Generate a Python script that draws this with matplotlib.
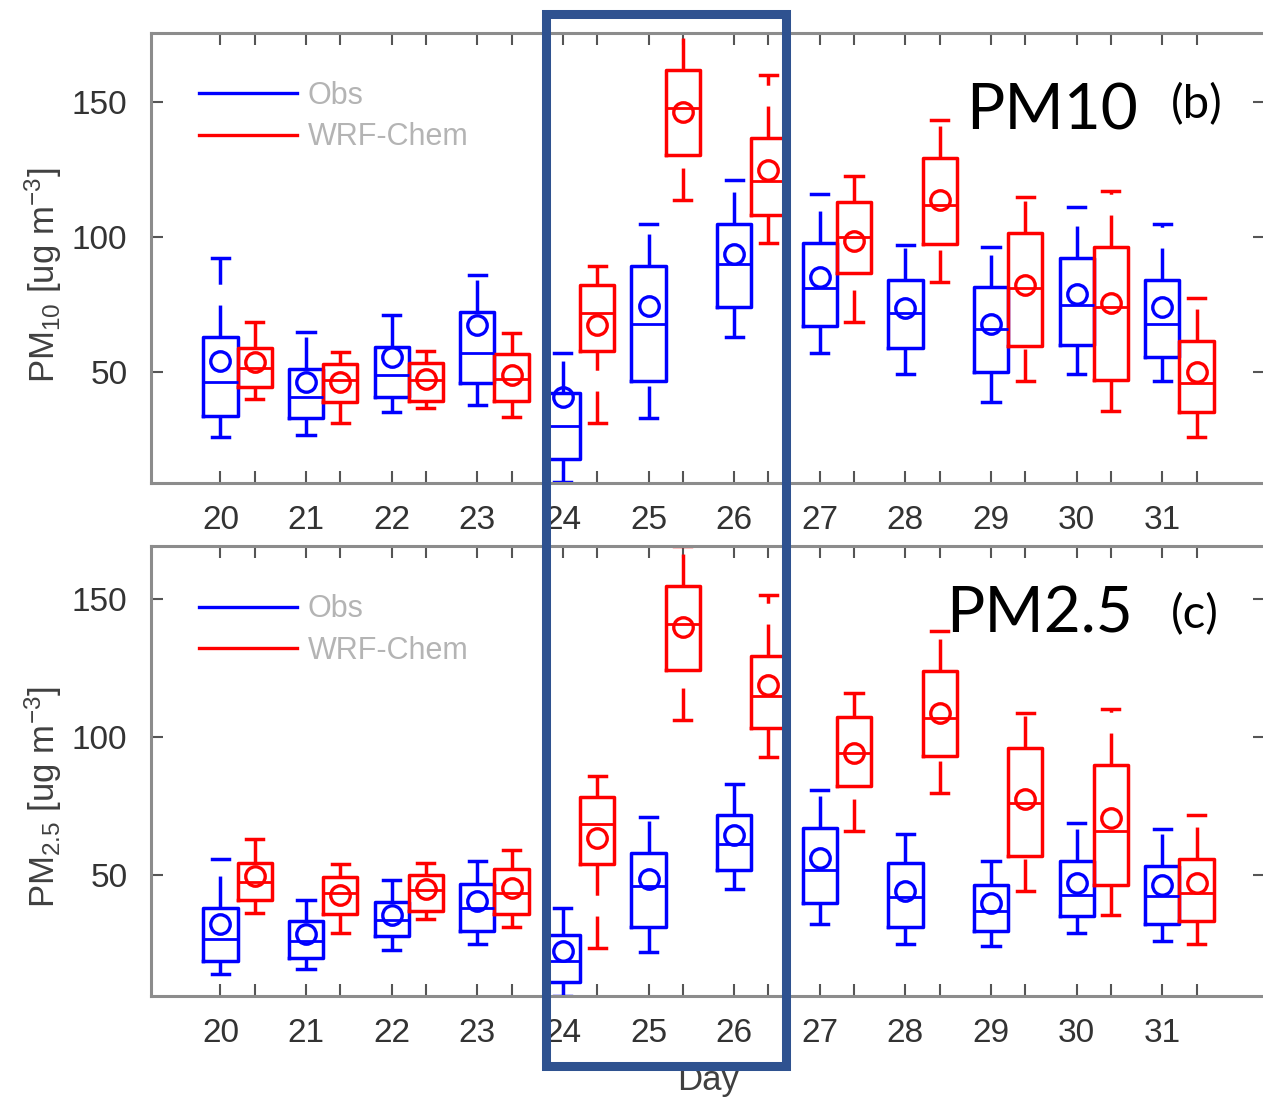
import matplotlib
matplotlib.use('Agg')
import matplotlib.pyplot as plt
from matplotlib.lines import Line2D
from matplotlib.patches import Rectangle
from matplotlib.transforms import blended_transform_factory

plt.rcParams['font.family'] = ['Liberation Sans', 'DejaVu Sans']
plt.rcParams['mathtext.default'] = 'regular'
plt.rcParams['lines.scale_dashes'] = False

days = list(range(20, 32))
highlight = (23.8, 26.6)   # days 24-26 boxed

# PM10 (b)
pm10_obs_lo = [26.0, 26.8, 35.0, 37.9, 9.2, 32.8, 62.8, 57.0, 49.1, 38.9, 49.1, 46.8]
pm10_obs_q1 = [33.7, 32.8, 40.7, 45.9, 17.9, 46.8, 73.9, 67.0, 58.9, 50.0, 59.9, 55.7]
pm10_obs_med = [46.2, 40.8, 49.0, 57.0, 30.0, 67.9, 89.9, 80.9, 71.9, 65.9, 74.9, 67.9]
pm10_obs_q3 = [63.1, 51.0, 59.2, 72.1, 42.3, 89.2, 104.8, 97.8, 84.2, 81.3, 92.3, 84.2]
pm10_obs_hi = [92.1, 64.7, 71.0, 86.0, 57.0, 104.8, 121.2, 115.9, 96.9, 96.2, 111.0, 104.8]
pm10_obs_mean = [54.1, 46.2, 55.7, 67.5, 40.7, 74.5, 93.8, 85.3, 73.6, 67.9, 78.7, 73.9]

pm10_wrf_lo = [40.1, 31.1, 36.6, 33.2, 31.1, 113.8, 97.8, 68.5, 83.4, 46.6, 35.7, 26.0]
pm10_wrf_q1 = [44.6, 38.8, 39.4, 39.2, 57.7, 130.1, 108.0, 86.6, 97.4, 59.6, 47.1, 35.1]
pm10_wrf_med = [51.3, 47.1, 47.1, 47.4, 71.9, 147.8, 120.5, 100.0, 111.9, 80.9, 73.9, 45.9]
pm10_wrf_q3 = [58.9, 52.9, 53.2, 56.8, 82.1, 161.6, 136.7, 112.9, 129.1, 101.3, 96.2, 61.5]
pm10_wrf_hi = [68.5, 57.4, 57.7, 64.3, 89.2, 175.6, 160.0, 122.4, 143.1, 114.7, 116.8, 77.4]
pm10_wrf_mean = [53.8, 46.2, 47.4, 49.0, 67.5, 146.3, 124.9, 98.5, 113.8, 82.1, 75.5, 50.0]

# PM2.5 (c)
pm25_obs_lo = [14.0, 16.0, 22.9, 25.0, 6.2, 22.0, 44.8, 32.1, 25.0, 24.2, 29.1, 26.2]
pm25_obs_q1 = [18.8, 19.8, 27.8, 29.8, 11.1, 31.1, 51.9, 39.8, 31.1, 29.8, 35.2, 32.3]
pm25_obs_med = [26.9, 26.2, 33.6, 38.1, 18.8, 45.9, 61.1, 51.9, 42.0, 36.9, 42.9, 42.4]
pm25_obs_q3 = [38.1, 33.2, 40.1, 46.9, 28.2, 57.9, 71.9, 66.9, 54.3, 46.3, 55.2, 53.2]
pm25_obs_hi = [55.9, 41.0, 48.2, 54.9, 37.9, 71.0, 82.9, 80.9, 64.9, 55.2, 68.8, 66.8]
pm25_obs_mean = [32.3, 28.7, 35.6, 40.5, 22.3, 48.5, 64.6, 56.2, 44.2, 39.8, 47.2, 46.5]

pm25_wrf_lo = [36.2, 29.1, 33.9, 31.1, 23.6, 106.2, 92.9, 65.9, 79.8, 44.3, 35.6, 25.0]
pm25_wrf_q1 = [41.1, 36.0, 36.9, 36.0, 53.9, 124.5, 103.2, 82.2, 93.3, 56.8, 46.5, 33.4]
pm25_wrf_med = [47.6, 43.3, 44.6, 43.3, 68.4, 141.0, 114.8, 94.2, 107.1, 76.2, 66.1, 43.3]
pm25_wrf_q3 = [54.3, 49.1, 50.1, 52.1, 78.4, 154.8, 129.4, 107.3, 124.1, 95.9, 89.9, 55.9]
pm25_wrf_hi = [62.9, 54.0, 54.5, 59.0, 85.8, 169.2, 151.5, 115.9, 138.4, 108.6, 110.3, 71.9]
pm25_wrf_mean = [49.5, 42.9, 44.8, 45.2, 63.5, 140.0, 118.9, 94.2, 108.8, 77.4, 70.7, 47.2]


def make_stats(lo, q1, med, q3, hi, mean):
    return [dict(whislo=a, q1=b, med=c, q3=d, whishi=e, mean=f)
            for a, b, c, d, e, f in zip(lo, q1, med, q3, hi, mean)]


def draw_boxes(ax, stats, pos, color):
    art = ax.bxp(stats, positions=pos, widths=0.4, showmeans=True, showfliers=False,
                 manage_ticks=False,
                 boxprops=dict(color=color, lw=2.5),
                 whiskerprops=dict(color=color, lw=2.5, linestyle=(0, (23, 15))),
                 capprops=dict(color=color, lw=2.5),
                 medianprops=dict(color=color, lw=2.0),
                 meanprops=dict(marker='o', markerfacecolor='none', markeredgecolor=color,
                                markersize=14, markeredgewidth=2.4))
    # dashes start from the low end on the lower whisker
    for w in art['whiskers'][0::2]:
        w.set_ydata(w.get_ydata()[::-1])


def style_axes(ax, ylim):
    ax.set_xlim(19.19, 32.2)
    ax.set_ylim(*ylim)
    ax.set_xticks(days)
    ax.set_xticklabels([str(d) for d in days])
    ax.set_xticks([d + 0.4 for d in days], minor=True)
    ax.set_yticks([50, 100, 150])
    ax.tick_params(which='both', direction='in', top=True, right=True, length=8.6,
                   width=1.5, color='#555555', labelsize=24, labelcolor='#333333')
    ax.tick_params(axis='x', pad=16)
    ax.tick_params(axis='y', pad=17)
    for s in ax.spines.values():
        s.set_color('#8c8c8c')
        s.set_linewidth(2.2)
    handles = [Line2D([], [], color='#0000ff', lw=2.4), Line2D([], [], color='#ff0000', lw=2.4)]
    ax.legend(handles, ['Obs', 'WRF-Chem'], loc='upper left', bbox_to_anchor=(0.043, 0.893),
              frameon=False, fontsize=22, labelcolor='#b4b4b4', handlelength=3.2,
              handletextpad=0.35, labelspacing=0.37, borderpad=0, borderaxespad=0)


fig = plt.figure(figsize=(12.63, 10.97), dpi=100)
ax1 = fig.add_axes([0.1196, 0.5597, 0.882, 0.4102])
ax2 = fig.add_axes([0.1196, 0.0923, 0.882, 0.4097])

obs_pos = days
wrf_pos = [d + 0.4 for d in days]

draw_boxes(ax1, make_stats(pm10_obs_lo, pm10_obs_q1, pm10_obs_med, pm10_obs_q3, pm10_obs_hi, pm10_obs_mean), obs_pos, '#0000ff')
draw_boxes(ax1, make_stats(pm10_wrf_lo, pm10_wrf_q1, pm10_wrf_med, pm10_wrf_q3, pm10_wrf_hi, pm10_wrf_mean), wrf_pos, '#ff0000')
draw_boxes(ax2, make_stats(pm25_obs_lo, pm25_obs_q1, pm25_obs_med, pm25_obs_q3, pm25_obs_hi, pm25_obs_mean), obs_pos, '#0000ff')
draw_boxes(ax2, make_stats(pm25_wrf_lo, pm25_wrf_q1, pm25_wrf_med, pm25_wrf_q3, pm25_wrf_hi, pm25_wrf_mean), wrf_pos, '#ff0000')

style_axes(ax1, (8.9, 175.4))
style_axes(ax2, (6.2, 169.2))

ax1.set_ylabel(r'PM$_{10}$ [ug m$^{-3}$]', fontsize=25, color='#404040')
ax1.yaxis.set_label_coords(-0.078, 0.461)
ax2.set_ylabel(r'PM$_{2.5}$ [ug m$^{-3}$]', fontsize=25, color='#404040')
ax2.yaxis.set_label_coords(-0.078, 0.443)
ax2.set_xlabel('Day', fontsize=25, color='#404040', va='top')
ax2.xaxis.set_label_coords(0.5, -0.152)

fig.text(0.765, 0.8815, 'PM10', fontsize=46, family='Lato', va='baseline', color='black')
fig.text(0.927, 0.8924, '(b)', fontsize=34, family='Lato', va='baseline', color='black')
fig.text(0.749, 0.423, 'PM2.5', fontsize=46, family='Lato', va='baseline', color='black')
fig.text(0.927, 0.4276, '(c)', fontsize=34, family='Lato', va='baseline', color='black')

# highlight box around days 24-26, spanning both panels
tr = blended_transform_factory(ax2.transData, fig.transFigure)
fig.add_artist(Rectangle((highlight[0], 0.02853), highlight[1] - highlight[0], 0.9583,
                         transform=tr, fill=False, edgecolor='#2F5290', lw=6.5, zorder=10))

fig.savefig('out.png', dpi=100)
